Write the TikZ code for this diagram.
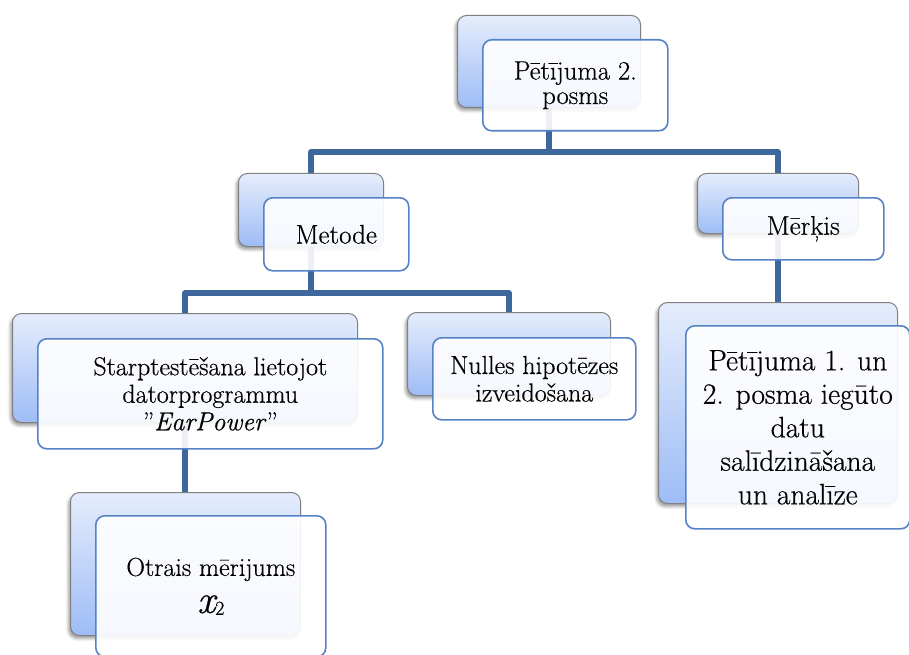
\documentclass[tikz,border=0pt]{standalone}
\usepackage{fontspec}
\setmainfont{Latin Modern Roman}[UprightFeatures={FakeBold=0.5}, ItalicFeatures={FakeBold=0.5}]
\usetikzlibrary{shadows.blur}
\definecolor{connline}{RGB}{62,103,155}
\definecolor{frontline}{RGB}{84,130,196}
\definecolor{backline}{RGB}{128,128,128}
\definecolor{backtop}{RGB}{229,237,252}
\definecolor{backbot}{RGB}{158,188,246}
\begin{document}
\begin{tikzpicture}[x=1pt,y=-1pt,
  backbox/.style={draw=backline, line width=1pt, rounded corners=9pt,
    top color=backtop, bottom color=backbot, anchor=north west,
    blur shadow={shadow xshift=-2pt, shadow yshift=-3pt, shadow opacity=40, shadow blur radius=3pt}},
  frontbox/.style={draw=frontline, line width=1.6pt, rounded corners=9pt,
    fill=white, fill opacity=0.9, text opacity=1, text=black, anchor=north west,
    inner sep=0pt, align=center, font=\fontsize{26}{27.5}\selectfont},
  conn/.style={draw=connline, line width=5.5pt, line join=round}
]
\useasboundingbox (0,0) rectangle (909,655);
\clip (0,0) rectangle (909,655);

% back plates
\node[backbox, minimum width=183pt, minimum height=92pt]  (b0) at (457,15)  {};
\node[backbox, minimum width=145pt, minimum height=73pt]  (b1) at (238,173) {};
\node[backbox, minimum width=161pt, minimum height=60pt]  (b2) at (697,173) {};
\node[backbox, minimum width=345pt, minimum height=109pt] (b3) at (12,313)  {};
\node[backbox, minimum width=239pt, minimum height=201pt] (b4) at (658,302) {};
\node[backbox, minimum width=203pt, minimum height=83pt]  (b5) at (407,312) {};
\node[backbox, minimum width=230pt, minimum height=143pt] (b6) at (70,492)  {};

% connectors
\coordinate (bus1) at (0,152);
\coordinate (bus2) at (0,293);
\draw[conn] (b0.south) -- (b0.south |- bus1);
\draw[conn] (b1.north) |- (b2.north |- bus1) -- (b2.north);
\draw[conn] (b2.south) -- (b2.south |- b4.north);
\draw[conn] (b1.south) -- (b1.south |- bus2);
\draw[conn] (b3.north) |- (b5.north |- bus2) -- (b5.north);
\draw[conn] (b3.south) -- (b3.south |- b6.north);

% front cards with the labels
\node[frontbox, minimum width=185pt, minimum height=91pt, font=\fontsize{26.5}{24.5}\selectfont]
  (f0) at (482,39) {Pētījuma 2.\\posms};
\node[frontbox, minimum width=145pt, minimum height=73pt, font=\fontsize{27}{27}\selectfont]
  (f1) at (263,197) {Metode};
\node[frontbox, minimum width=161pt, minimum height=62pt, font=\fontsize{27}{27}\selectfont]
  (f2) at (722,197) {Mērķis};
\node[frontbox, minimum width=345pt, minimum height=110pt] (f3) at (37,338)
  {Starptestēšana lietojot\\datorprogrammu\\"\textit{EarPower}"};
\node[frontbox, minimum width=224pt, minimum height=203pt, font=\fontsize{29.5}{33.5}\selectfont]
  (f4) at (685,325) {Pētījuma 1. un\\2. posma iegūto\\datu\\salīdzināšana\\un analīze};
\node[frontbox, minimum width=203pt, minimum height=82pt]  (f5) at (432,337)
  {Nulles hipotēzes\\izveidošana};
\node[frontbox, minimum width=230pt, minimum height=141pt, font=\fontsize{26}{37}\selectfont]
  (f6) at (95,515)
  {Otrais mērijums\\{\fontsize{40}{40}\selectfont\itshape x}{\raisebox{-2pt}{\fontsize{20}{20}\selectfont 2}}};
\end{tikzpicture}
\end{document}
